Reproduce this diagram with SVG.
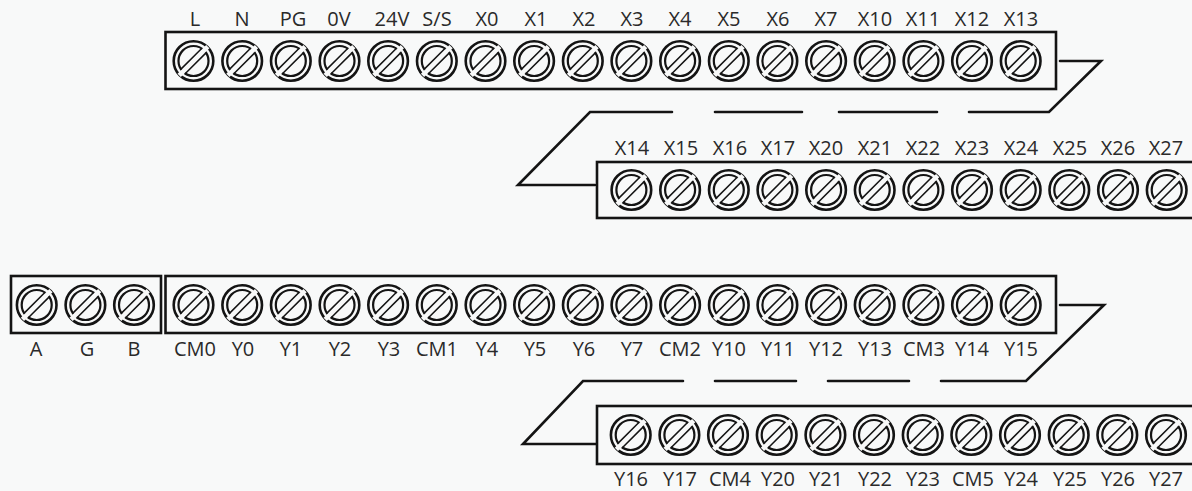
<svg xmlns="http://www.w3.org/2000/svg" width="1192" height="491" viewBox="0 0 1192 491">
<style>
.bg{fill:#f8f9f9}
.box{fill:#f8f9f9;stroke:#141414;stroke-width:2.6}
.conn{fill:none;stroke:#141414;stroke-width:2.6;stroke-linejoin:miter;stroke-linecap:round}
.o{fill:#f8f9f9;stroke:#141414;stroke-width:2.6}
.i{fill:none;stroke:#141414;stroke-width:2.2}
.e{fill:none;stroke:#141414;stroke-width:1.5}
.sf{fill:#f8f9f9;stroke:none}
text{font-family:"Open Sans","Noto Sans",sans-serif;font-size:20px;fill:#2a2a2a;text-anchor:middle}
</style>
<defs>
<g id="s">
<circle class="o" r="19.800"/>
<circle class="i" r="15"/>
<g transform="rotate(-45)">
<rect class="sf" x="-20.200" y="-2.300" width="40.400" height="4.600"/>
<path class="e" d="M-14.600-3.100H14.600M-14.600 3.100H14.600"/>
</g>
</g>
</defs>
<rect class="bg" width="1192" height="491"/>
<g id="connectors">
<path class="conn" d="M1060 61H1101L1049 112H969M937 112H839M802 112H715M672 112H590L518 185H595"/>
<path class="conn" d="M1060 305H1104L1026 381H941M909 381H828M796 381H715M683 381H583L523 444H597"/>
</g>
<g id="block-x0">
<rect class="box" x="165.500" y="32" width="890.500" height="57"/>
<use href="#s" x="193.500" y="61"/><use href="#s" x="242.200" y="61"/><use href="#s" x="290.800" y="61"/><use href="#s" x="339.500" y="61"/><use href="#s" x="388.100" y="61"/><use href="#s" x="436.800" y="61"/><use href="#s" x="485.500" y="61"/><use href="#s" x="534.100" y="61"/><use href="#s" x="582.800" y="61"/><use href="#s" x="631.400" y="61"/><use href="#s" x="680.100" y="61"/><use href="#s" x="728.800" y="61"/><use href="#s" x="777.400" y="61"/><use href="#s" x="826.100" y="61"/><use href="#s" x="874.700" y="61"/><use href="#s" x="923.400" y="61"/><use href="#s" x="972" y="61"/><use href="#s" x="1020.700" y="61"/>
<text x="195" y="26">L</text><text x="242" y="26">N</text><text x="293" y="26">PG</text><text x="339" y="26">0V</text><text x="392" y="26">24V</text><text x="437" y="26">S/S</text><text x="487" y="26">X0</text><text x="536" y="26">X1</text><text x="584" y="26">X2</text><text x="632" y="26">X3</text><text x="680" y="26">X4</text><text x="729" y="26">X5</text><text x="778" y="26">X6</text><text x="826" y="26">X7</text><text x="875" y="26">X10</text><text x="923" y="26">X11</text><text x="972" y="26">X12</text><text x="1021" y="26">X13</text>
</g>
<g id="block-x14">
<rect class="box" x="597" y="162" width="600" height="56"/>
<use href="#s" x="631.400" y="190"/><use href="#s" x="680.100" y="190"/><use href="#s" x="728.800" y="190"/><use href="#s" x="777.400" y="190"/><use href="#s" x="826.100" y="190"/><use href="#s" x="874.700" y="190"/><use href="#s" x="923.400" y="190"/><use href="#s" x="972" y="190"/><use href="#s" x="1020.700" y="190"/><use href="#s" x="1069.300" y="190"/><use href="#s" x="1118" y="190"/><use href="#s" x="1166.700" y="190"/>
<text x="632" y="155">X14</text><text x="681" y="155">X15</text><text x="730" y="155">X16</text><text x="778" y="155">X17</text><text x="826" y="155">X20</text><text x="875" y="155">X21</text><text x="923" y="155">X22</text><text x="972" y="155">X23</text><text x="1021" y="155">X24</text><text x="1070" y="155">X25</text><text x="1118" y="155">X26</text><text x="1166" y="155">X27</text>
</g>
<g id="block-agb">
<rect class="box" x="11" y="276" width="150" height="57"/>
<use href="#s" x="36.700" y="305"/><use href="#s" x="85.400" y="305"/><use href="#s" x="134" y="305"/>
<text x="36" y="356">A</text><text x="87" y="356">G</text><text x="134" y="356">B</text>
</g>
<g id="block-y0">
<rect class="box" x="165.500" y="276" width="890.500" height="57"/>
<use href="#s" x="193.500" y="305"/><use href="#s" x="242.200" y="305"/><use href="#s" x="290.800" y="305"/><use href="#s" x="339.500" y="305"/><use href="#s" x="388.100" y="305"/><use href="#s" x="436.800" y="305"/><use href="#s" x="485.500" y="305"/><use href="#s" x="534.100" y="305"/><use href="#s" x="582.800" y="305"/><use href="#s" x="631.400" y="305"/><use href="#s" x="680.100" y="305"/><use href="#s" x="728.800" y="305"/><use href="#s" x="777.400" y="305"/><use href="#s" x="826.100" y="305"/><use href="#s" x="874.700" y="305"/><use href="#s" x="923.400" y="305"/><use href="#s" x="972" y="305"/><use href="#s" x="1020.700" y="305"/>
<text x="195" y="356">CM0</text><text x="243" y="356">Y0</text><text x="291" y="356">Y1</text><text x="340" y="356">Y2</text><text x="389" y="356">Y3</text><text x="437" y="356">CM1</text><text x="487" y="356">Y4</text><text x="535" y="356">Y5</text><text x="584" y="356">Y6</text><text x="632" y="356">Y7</text><text x="680" y="356">CM2</text><text x="729" y="356">Y10</text><text x="778" y="356">Y11</text><text x="826" y="356">Y12</text><text x="875" y="356">Y13</text><text x="924" y="356">CM3</text><text x="972" y="356">Y14</text><text x="1021" y="356">Y15</text>
</g>
<g id="block-y16">
<rect class="box" x="597" y="406" width="600" height="58"/>
<use href="#s" x="630.700" y="435"/><use href="#s" x="679.400" y="435"/><use href="#s" x="728" y="435"/><use href="#s" x="776.700" y="435"/><use href="#s" x="825.400" y="435"/><use href="#s" x="874" y="435"/><use href="#s" x="922.700" y="435"/><use href="#s" x="971.300" y="435"/><use href="#s" x="1020" y="435"/><use href="#s" x="1068.700" y="435"/><use href="#s" x="1117.300" y="435"/><use href="#s" x="1166" y="435"/>
<text x="631" y="486">Y16</text><text x="680" y="486">Y17</text><text x="730" y="486">CM4</text><text x="778" y="486">Y20</text><text x="826" y="486">Y21</text><text x="875" y="486">Y22</text><text x="923" y="486">Y23</text><text x="973" y="486">CM5</text><text x="1021" y="486">Y24</text><text x="1070" y="486">Y25</text><text x="1118" y="486">Y26</text><text x="1166" y="486">Y27</text>
</g>
</svg>
